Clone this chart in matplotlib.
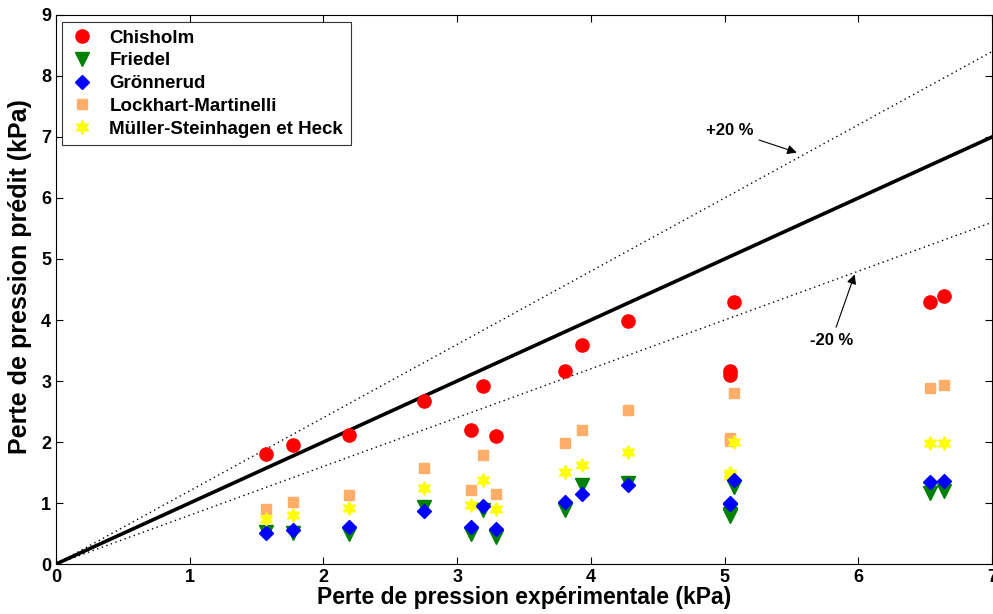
import numpy as np
import matplotlib
matplotlib.use("Agg")
import matplotlib.pyplot as plt

# experimental pressure drop (kPa)
x_exp = [1.57, 1.77, 2.19, 2.75, 3.10, 3.19, 3.29, 3.81, 3.93, 4.28, 5.04, 5.04, 5.07, 6.54, 6.64]

# predicted pressure drop (kPa) for each correlation
chisholm = [1.80, 1.95, 2.11, 2.68, 2.19, 2.92, 2.10, 3.17, 3.59, 3.98, 3.16, 3.10, 4.30, 4.29, 4.39]
friedel = [0.53, 0.51, 0.50, 0.93, 0.49, 0.89, 0.45, 0.89, 1.30, 1.32, 0.79, 0.82, 1.27, 1.17, 1.20]
gronnerud = [0.51, 0.55, 0.61, 0.87, 0.61, 0.95, 0.57, 1.02, 1.15, 1.30, 0.98, 1.00, 1.38, 1.35, 1.36]
lockhart = [0.90, 1.02, 1.13, 1.58, 1.21, 1.79, 1.15, 1.99, 2.19, 2.52, 2.07, 2.01, 2.81, 2.89, 2.93]
muller = [0.73, 0.81, 0.92, 1.24, 0.96, 1.38, 0.90, 1.51, 1.62, 1.84, 1.49, 1.44, 2.00, 1.98, 1.98]

series_names = ["Chisholm", "Friedel", "Grönnerud", "Lockhart-Martinelli", "Müller-Steinhagen et Heck"]

plt.rcParams['font.family'] = ['Liberation Sans', 'DejaVu Sans']

fig = plt.figure(figsize=(9.93, 6.14), dpi=100)
ax = fig.add_axes([0.0564, 0.0814, 0.9426, 0.8942])

xl = np.array([0, 7])
ax.plot(xl, xl, color='black', lw=2.6, zorder=2)
ax.plot(xl, 1.2 * xl, color='black', lw=1.0, ls=(0, (1, 2.5)), zorder=2)
ax.plot(xl, 0.8 * xl, color='black', lw=1.0, ls=(0, (1, 2.5)), zorder=2)

ax.plot(x_exp, chisholm, 'o', color='red', ms=9.5, mec='red', ls='none', label=series_names[0], zorder=3)
ax.plot(x_exp, friedel, 'v', color='green', ms=9.5, mec='green', ls='none', label=series_names[1], zorder=3)
ax.plot(x_exp, gronnerud, 'D', color='blue', ms=7, mec='blue', ls='none', label=series_names[2], zorder=4)
ax.plot(x_exp, lockhart, 's', color='#FFAE6A', ms=7.5, mec='#FFAE6A', ls='none', label=series_names[3], zorder=3)
ax.plot(x_exp, muller, marker=(6, 1, 0), color='yellow', ms=10, mec='yellow', ls='none', label=series_names[4], zorder=3)

ax.annotate('+20 %', xy=(5.56, 6.73), xytext=(5.04, 7.11), fontsize=12, fontweight='bold',
            va='center', ha='center',
            arrowprops=dict(arrowstyle='-|>', color='black', lw=0.8, mutation_scale=14, shrinkA=2))
ax.annotate('-20 %', xy=(5.98, 4.79), xytext=(5.80, 3.67), fontsize=12, fontweight='bold',
            va='center', ha='center',
            arrowprops=dict(arrowstyle='-|>', color='black', lw=0.8, mutation_scale=14, shrinkA=2))

ax.set_xlim(0, 7)
ax.set_ylim(0, 9)
ax.set_xticks(range(0, 8))
ax.set_yticks(range(0, 10))
ax.tick_params(direction='in', top=True, right=True, length=5, width=0.8, labelsize=13)
for lab in ax.get_xticklabels() + ax.get_yticklabels():
    lab.set_fontweight('bold')

ax.set_xlabel('Perte de pression expérimentale (kPa)', fontsize=16.5, fontweight='bold', labelpad=0)
ax.set_ylabel('Perte de pression prédit (kPa)', fontsize=18, fontweight='bold')
ax.yaxis.set_label_coords(-0.0255, 0.523)

leg = ax.legend(loc='upper left', bbox_to_anchor=(0.006, 0.987), prop={'weight': 'bold', 'size': 13.5},
                frameon=True, fancybox=False, edgecolor='black', handletextpad=0.75,
                borderpad=0.4, labelspacing=0.3, handlelength=1.4, borderaxespad=0)
leg.get_frame().set_linewidth(0.8)

fig.savefig('out.png', dpi=100)
